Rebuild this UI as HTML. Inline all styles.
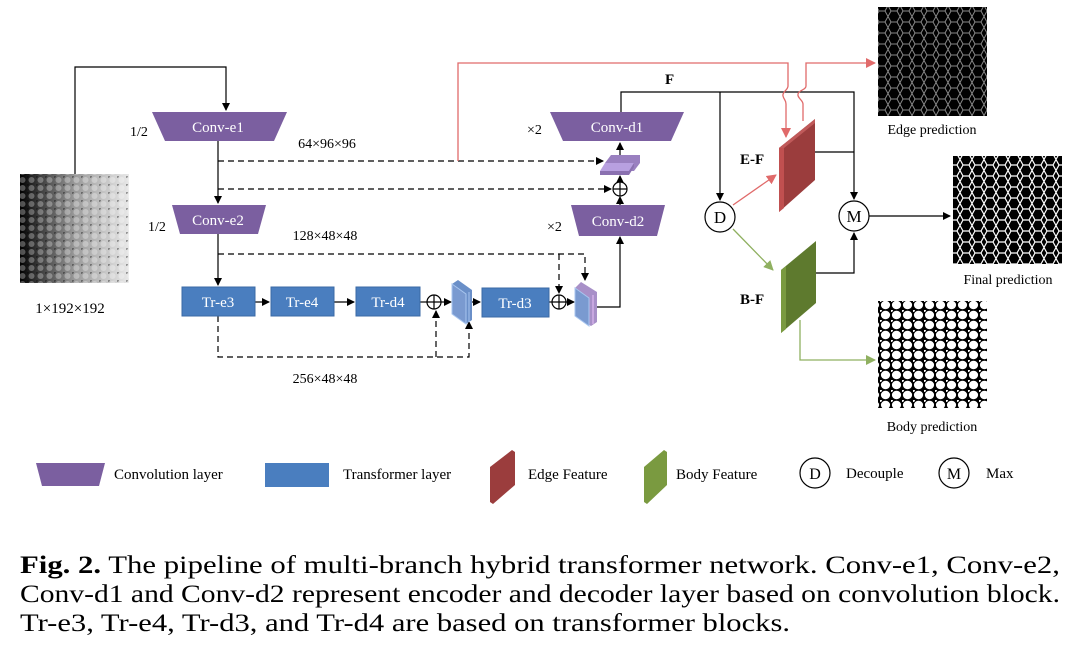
<!DOCTYPE html>
<html><head><meta charset="utf-8">
<style>
html,body{margin:0;padding:0;background:#fff;}
svg{display:block;}
text{font-family:"Liberation Serif",serif;}
</style></head>
<body>
<svg width="1080" height="653" viewBox="0 0 1080 653" xmlns="http://www.w3.org/2000/svg">
<defs>
  <marker id="a" markerWidth="8" markerHeight="8" refX="7" refY="4" orient="auto" markerUnits="userSpaceOnUse"><path d="M0,0 L8,4 L0,8 z" fill="#000"/></marker>
  <marker id="ar" markerWidth="10" markerHeight="10" refX="9" refY="5" orient="auto" markerUnits="userSpaceOnUse"><path d="M0,0 L10,5 L0,10 z" fill="#e06a6a"/></marker>
  <marker id="ag" markerWidth="10" markerHeight="10" refX="9" refY="5" orient="auto" markerUnits="userSpaceOnUse"><path d="M0,0 L10,5 L0,10 z" fill="#8fb060"/></marker>
  <linearGradient id="gin" x1="0" x2="1" y1="0" y2="0">
    <stop offset="0" stop-color="#000"/><stop offset="0.15" stop-color="#333"/><stop offset="0.5" stop-color="#999"/><stop offset="1" stop-color="#e8e8e8"/>
  </linearGradient>
  <pattern id="pin" width="9" height="8" patternUnits="userSpaceOnUse">
    <circle cx="4.5" cy="4" r="3" fill="#fff" fill-opacity="0.3"/>
    <circle cx="0" cy="0" r="2" fill="#000" fill-opacity="0.35"/>
  </pattern>
  <pattern id="pedge" width="12" height="11" patternUnits="userSpaceOnUse">
    <rect width="12" height="11" fill="#000"/>
    <path d="M0,5.5 L3,0 L9,0 L12,5.5 L9,11 L3,11 Z" fill="none" stroke="#888" stroke-width="1"/>
  </pattern>
  <pattern id="pfin" width="12" height="11" patternUnits="userSpaceOnUse">
    <rect width="12" height="11" fill="#000"/>
    <path d="M0,5.5 L3,0 L9,0 L12,5.5 L9,11 L3,11 Z" fill="none" stroke="#fff" stroke-width="1.2"/>
  </pattern>
  <pattern id="pbody" width="11" height="10" patternUnits="userSpaceOnUse">
    <rect width="11" height="10" fill="#000"/>
    <ellipse cx="5.5" cy="5" rx="4.6" ry="4.2" fill="#fff"/>
    <circle cx="0" cy="0" r="2" fill="#fff"/>
  </pattern>
</defs>

<!-- input image -->
<rect x="20" y="174" width="109" height="109" fill="url(#gin)"/>
<rect x="20" y="174" width="109" height="109" fill="url(#pin)"/>
<text x="70" y="313" font-size="15" text-anchor="middle">1×192×192</text>

<g stroke="#000" stroke-width="1.2" fill="none">
  <path d="M75,174 V67 H226 V110" marker-end="url(#a)"/>
  <path d="M218,141 V203" marker-end="url(#a)"/>
  <path d="M218,234 V285" marker-end="url(#a)"/>
  <path d="M255,302 H269" marker-end="url(#a)"/>
  <path d="M334,302 H354" marker-end="url(#a)"/>
  <path d="M420,302 H427"/>
  <path d="M441,302 H451" marker-end="url(#a)"/>
  <path d="M472,302 H480" marker-end="url(#a)"/>
  <path d="M549,302 H552"/>
  <path d="M566,302 H574" marker-end="url(#a)"/>
  <path d="M597,307 H620 V237" marker-end="url(#a)"/>
  <path d="M620,205 V197" marker-end="url(#a)"/>
  <path d="M620,181 V176" marker-end="url(#a)"/>
  <path d="M620,155 V143" marker-end="url(#a)"/>
  <path d="M621,112 V92 H854 V199" marker-end="url(#a)"/>
  <path d="M720,92 V200" marker-end="url(#a)"/>
  <path d="M815,152 H854"/>
  <path d="M816,273 H854 V233" marker-end="url(#a)"/>
  <path d="M869,216 H950" marker-end="url(#a)"/>
</g>
<g stroke="#000" stroke-width="1.2" fill="none" stroke-dasharray="6,4">
  <path d="M218,161 H603" marker-end="url(#a)"/>
  <path d="M218,189 H611" marker-end="url(#a)"/>
  <path d="M218,254 H585 V280" marker-end="url(#a)"/>
  <path d="M559,254 V293" marker-end="url(#a)"/>
  <path d="M218,316 V357 H469 V322" marker-end="url(#a)"/>
  <path d="M436,357 V311" marker-end="url(#a)"/>
</g>

<!-- red lines -->
<g stroke="#e06a6a" stroke-width="1.3" fill="none">
  <path d="M458,161 V63 H788 V86 C788,90 782,92 783,96 C784,100 786,100 786,104 V137" marker-end="url(#ar)"/>
  <path d="M803,121 V104 C803,100 797,98 798,94 C799,90 806,90 806,86 V63 H875" marker-end="url(#ar)"/>
  <path d="M733,205 L776,175" marker-end="url(#ar)"/>
</g>
<g stroke="#8fb060" stroke-width="1.3" fill="none">
  <path d="M733,229 L773,270" marker-end="url(#ag)"/>
  <path d="M800,320 V360 H875" marker-end="url(#ag)"/>
</g>

<!-- conv blocks -->
<g fill="#7b5fa0">
  <polygon points="152,112 287,112 274,141 165,141"/>
  <polygon points="172,205 266,205 258,234 180,234"/>
  <polygon points="550,112 684,112 671,141 563,141"/>
  <polygon points="571,205 665,205 657,236 579,236"/>
</g>
<g fill="#fff" font-size="15" text-anchor="middle">
  <text x="218" y="132">Conv-e1</text>
  <text x="218" y="225">Conv-e2</text>
  <text x="617" y="132">Conv-d1</text>
  <text x="618" y="226">Conv-d2</text>
</g>
<g font-size="14">
  <text x="130" y="136">1/2</text>
  <text x="148" y="231">1/2</text>
  <text x="527" y="134">×2</text>
  <text x="547" y="231">×2</text>
  <text x="327" y="148" text-anchor="middle">64×96×96</text>
  <text x="325" y="240" text-anchor="middle">128×48×48</text>
  <text x="325" y="383" text-anchor="middle">256×48×48</text>
  <text x="665" y="84" font-weight="bold" font-size="15">F</text>
  <text x="740" y="164" font-weight="bold" font-size="15">E-F</text>
  <text x="740" y="304" font-weight="bold" font-size="15">B-F</text>
</g>

<!-- transformer blocks -->
<g fill="#4a7ebf" stroke="#3b6aa5" stroke-width="1">
  <rect x="182" y="287" width="73" height="29"/>
  <rect x="271" y="287" width="63" height="29"/>
  <rect x="356" y="287" width="64" height="29"/>
  <rect x="482" y="288" width="67" height="29"/>
</g>
<g fill="#fff" font-size="15" text-anchor="middle">
  <text x="218" y="307">Tr-e3</text>
  <text x="302" y="307">Tr-e4</text>
  <text x="388" y="307">Tr-d4</text>
  <text x="515" y="308">Tr-d3</text>
</g>

<!-- plus circles -->
<g fill="#fff" stroke="#000" stroke-width="1.2">
  <circle cx="434" cy="302" r="7"/><path d="M427,302 H441 M434,295 V309"/>
  <circle cx="559" cy="302" r="7"/><path d="M552,302 H566 M559,295 V309"/>
  <circle cx="620" cy="189" r="7"/><path d="M613,189 H627 M620,182 V196"/>
</g>

<!-- stacked slabs -->
<polygon points="452,284 458,280 472,290 472,320 466,324 452,314" fill="#6a8fc8"/>
<polygon points="452,284 466,294 466,324 452,314" fill="#7a9ad0" stroke="#a8c6ef" stroke-width="1"/>
<line x1="469" y1="292" x2="469" y2="322" stroke="#a8c6ef"/>
<polygon points="575,288 581,282 597,292 597,322 591,326 575,316" fill="#a890c8"/>
<polygon points="575,288 589,298 589,326 575,316" fill="#7a9ad0" stroke="#a8c6ef"/>
<line x1="593" y1="295" x2="593" y2="324" stroke="#c8a8e0" stroke-width="2"/>
<polygon points="605,163 611,155 640,155 640,163 634,171 605,171" fill="#9a80c0"/>
<polygon points="600,171 605,163 634,163 629,171" fill="#b8a0e0"/>
<polygon points="600,171 629,171 634,163 634,167 629,175 600,175" fill="#8a70b0"/>

<!-- D and M -->
<g fill="#fff" stroke="#000" stroke-width="1.2">
  <circle cx="720" cy="217" r="15"/>
  <circle cx="854" cy="216" r="15"/>
</g>
<text x="720" y="223" font-size="17" text-anchor="middle">D</text>
<text x="854" y="222" font-size="17" text-anchor="middle">M</text>

<!-- E-F / B-F slabs -->
<polygon points="779,148 815,119 815,180 779,212" fill="#9b3d3d"/>
<polygon points="779,148 784,144 784,208 779,212" fill="#c05050"/>
<polygon points="779,148 815,119 815,123 784,148" fill="#c05a5a"/>
<polygon points="781,270 816,241 816,303 781,333" fill="#5e7a2e"/>
<polygon points="781,270 786,266 786,329 781,333" fill="#7a9a40"/>

<!-- predictions -->
<rect x="878" y="7" width="109" height="109" fill="url(#pedge)"/>
<rect x="953" y="156" width="109" height="108" fill="url(#pfin)"/>
<rect x="878" y="301" width="109" height="107" fill="url(#pbody)"/>
<g font-size="14" text-anchor="middle">
  <text x="932" y="134">Edge prediction</text>
  <text x="1008" y="284">Final prediction</text>
  <text x="932" y="431">Body prediction</text>
</g>

<!-- legend -->
<polygon points="36,463 105,463 99,486 42,486" fill="#7b5fa0"/>
<rect x="265" y="463" width="64" height="24" fill="#4a7ebf"/>
<polygon points="490,467 512,450 515,452 515,485 493,504 490,502" fill="#9b3d3d"/>
<polygon points="644,467 664,450 667,452 667,485 647,504 644,502" fill="#7a9a40"/>
<circle cx="815" cy="473" r="15" fill="#fff" stroke="#000" stroke-width="1.2"/>
<circle cx="954" cy="473" r="15" fill="#fff" stroke="#000" stroke-width="1.2"/>
<g font-size="15">
  <text x="114" y="479">Convolution layer</text>
  <text x="343" y="479">Transformer layer</text>
  <text x="528" y="479">Edge Feature</text>
  <text x="676" y="479">Body Feature</text>
  <text x="815" y="479" text-anchor="middle" font-size="16">D</text>
  <text x="846" y="478">Decouple</text>
  <text x="954" y="479" text-anchor="middle" font-size="16">M</text>
  <text x="986" y="478">Max</text>
</g>

<!-- caption -->
<g font-size="25">
  <text x="20" y="573" textLength="1040" lengthAdjust="spacingAndGlyphs"><tspan font-weight="bold">Fig. 2.</tspan> The pipeline of multi-branch hybrid transformer network. Conv-e1, Conv-e2,</text>
  <text x="20" y="602" textLength="1040" lengthAdjust="spacingAndGlyphs">Conv-d1 and Conv-d2 represent encoder and decoder layer based on convolution block.</text>
  <text x="20" y="631" textLength="770" lengthAdjust="spacingAndGlyphs">Tr-e3, Tr-e4, Tr-d3, and Tr-d4 are based on transformer blocks.</text>
</g>
</svg>
</body></html>
